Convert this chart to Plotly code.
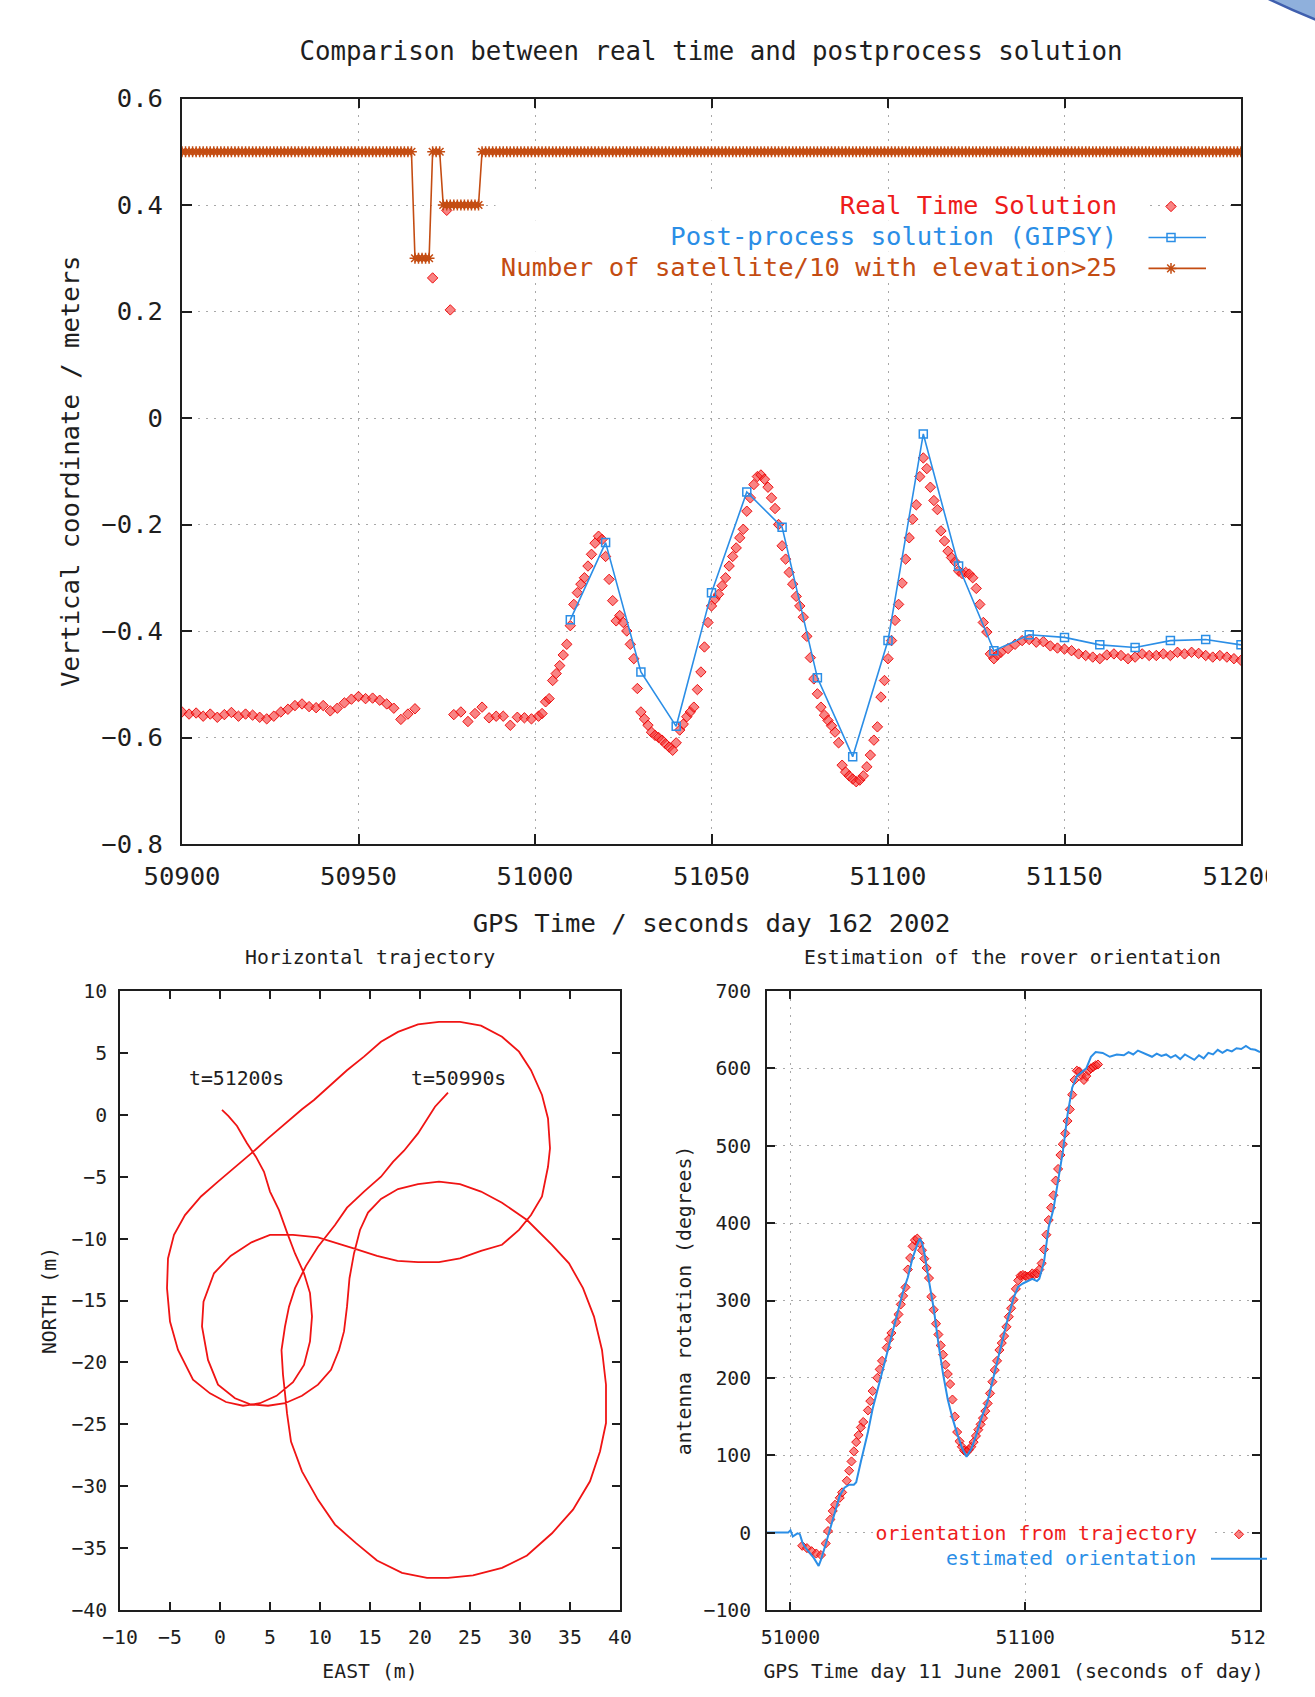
import plotly.graph_objects as go

W, H = 1315, 1697
FONT = "DejaVu Sans Mono"

# ---------------- top plot: vertical coordinate ----------------
rt_time = [50900, 50902, 50904, 50906, 50908, 50910, 50912, 50914, 50916, 50918,
           50920, 50922, 50924, 50926, 50928, 50930, 50932, 50934, 50936, 50938,
           50940, 50942, 50944, 50946, 50948, 50950, 50952, 50954, 50956, 50958,
           50960, 50962, 50964, 50966, 50971, 50975, 50976,
           50977, 50979, 50981, 50983, 50985, 50987, 50989, 50991, 50993, 50995,
           50997, 50999, 51001,
           51002, 51003, 51004, 51005, 51006, 51007, 51008, 51009, 51010, 51011,
           51012, 51013, 51014, 51015, 51016, 51017, 51018, 51019, 51020, 51021,
           51022, 51023, 51024, 51025, 51026, 51027, 51028, 51029, 51030, 51031,
           51032, 51033, 51034, 51035, 51036, 51037, 51038, 51039, 51040, 51041,
           51042, 51043, 51044, 51045, 51046, 51047, 51048, 51049, 51050, 51051,
           51052, 51053, 51054, 51055, 51056, 51057, 51058, 51059, 51060, 51061,
           51062, 51063, 51064, 51065, 51066, 51067, 51068, 51069, 51070, 51071,
           51072, 51073, 51074, 51075, 51076, 51077, 51078, 51079, 51080, 51081,
           51082, 51083, 51084, 51085, 51086, 51087, 51088, 51089, 51090, 51091,
           51092, 51093, 51094, 51095, 51096, 51097, 51098, 51099, 51100, 51101,
           51102, 51103, 51104, 51105, 51106, 51107, 51108, 51109, 51110, 51111,
           51112, 51113, 51114, 51115, 51116, 51117, 51118, 51119, 51120, 51121,
           51122, 51123, 51124, 51125, 51126, 51127, 51128, 51129, 51130, 51131,
           51132, 51134, 51136, 51138, 51140, 51142, 51144, 51146, 51148, 51150,
           51152, 51154, 51156, 51158, 51160, 51162, 51164, 51166, 51168, 51170,
           51172, 51174, 51176, 51178, 51180, 51182, 51184, 51186, 51188, 51190,
           51192, 51194, 51196, 51198, 51200]
rt_value = [-0.552, -0.556, -0.554, -0.560, -0.556, -0.562, -0.557, -0.553, -0.560, -0.556,
            -0.558, -0.562, -0.565, -0.560, -0.552, -0.547, -0.540, -0.537, -0.542, -0.544,
            -0.540, -0.550, -0.545, -0.535, -0.528, -0.523, -0.527, -0.526, -0.530, -0.537,
            -0.545, -0.566, -0.556, -0.546, 0.263, 0.390, 0.203,
            -0.557, -0.552, -0.570, -0.555, -0.543, -0.563, -0.560, -0.560, -0.577, -0.562,
            -0.563, -0.565, -0.560,
            -0.555, -0.533, -0.527, -0.493, -0.480, -0.465, -0.445, -0.425, -0.390, -0.350,
            -0.328, -0.312, -0.300, -0.278, -0.256, -0.235, -0.222, -0.228, -0.260, -0.303,
            -0.343, -0.381, -0.371, -0.384, -0.400, -0.425, -0.452, -0.508, -0.552, -0.565,
            -0.577, -0.590, -0.596, -0.600, -0.605, -0.612, -0.618, -0.624, -0.610, -0.586,
            -0.575, -0.561, -0.552, -0.543, -0.510, -0.477, -0.430, -0.384, -0.353, -0.340,
            -0.331, -0.315, -0.300, -0.278, -0.260, -0.244, -0.225, -0.209, -0.175, -0.150,
            -0.125, -0.110, -0.107, -0.115, -0.130, -0.150, -0.170, -0.200, -0.240, -0.265,
            -0.290, -0.312, -0.335, -0.353, -0.374, -0.410, -0.450, -0.490, -0.518, -0.543,
            -0.558, -0.568, -0.578, -0.590, -0.610, -0.652, -0.665, -0.672, -0.678, -0.683,
            -0.680, -0.672, -0.655, -0.633, -0.605, -0.580, -0.524, -0.493, -0.452, -0.418,
            -0.380, -0.350, -0.310, -0.265, -0.225, -0.190, -0.163, -0.110, -0.075, -0.095,
            -0.130, -0.155, -0.172, -0.212, -0.231, -0.250, -0.262, -0.270, -0.287, -0.292,
            -0.290, -0.293, -0.300, -0.320, -0.350, -0.384, -0.402, -0.443, -0.452, -0.445,
            -0.440, -0.433, -0.425, -0.418, -0.416, -0.421, -0.420, -0.428, -0.432, -0.434,
            -0.437, -0.443, -0.446, -0.449, -0.452, -0.445, -0.443, -0.446, -0.452, -0.449,
            -0.443, -0.446, -0.446, -0.443, -0.446, -0.440, -0.443, -0.440, -0.442, -0.446,
            -0.449, -0.446, -0.449, -0.452, -0.455]

gipsy_time = [51010, 51020, 51030, 51040, 51050, 51060, 51070, 51080, 51090, 51100,
              51110, 51120, 51130, 51140, 51150, 51160, 51170, 51180, 51190, 51200]
gipsy_value = [-0.379, -0.234, -0.477, -0.579, -0.328, -0.139, -0.205, -0.488, -0.636, -0.418,
               -0.030, -0.278, -0.437, -0.407, -0.412, -0.426, -0.431, -0.418, -0.416, -0.426]

# number of satellites above 25 deg, constant over runs of seconds
sat_run_start = [50900, 50966, 50971, 50974, 50985]
sat_run_end = [50965, 50970, 50973, 50984, 51200]
sat_count = [5, 3, 5, 4, 5]

# ---------------- bottom left: horizontal trajectory ----------------
east_m = [22.8, 21.5, 19.8, 18.4, 17.3, 16.1, 14.4, 12.7, 11.5, 9.8, 8.6, 7.5, 6.9, 6.5, 6.15,
          6.3, 6.5, 6.7, 7.1, 8.2, 9.8, 11.5, 13.6, 15.7, 18.2, 20.7, 22.8, 25.3, 28.2, 30.7,
          33.2, 35.3, 37.0, 38.0, 38.6, 38.6, 38.2, 37.4, 36.3, 34.9, 33.2, 30.7, 28.2, 26.1,
          24.0, 21.9, 19.8, 17.8, 16.1, 14.8, 14.0, 13.4, 12.95, 12.7, 12.4, 11.9, 11.1, 9.8,
          8.2, 6.5, 4.8, 3.1, 1.5, -0.2, -1.2, -1.8, -1.65, -0.6, 1.06, 3.15, 5.0, 7.3, 9.8,
          11.5, 13.6, 15.7, 17.75, 19.8, 21.9, 24.0, 26.1, 28.2, 29.9, 31.1, 32.2, 32.8, 33.0,
          32.8, 32.2, 31.1, 29.9, 28.2, 26.1, 24.0, 21.9, 19.8, 17.8, 16.1, 14.4, 12.7, 11.1,
          9.4, 8.2, 6.5, 4.8, 3.15, 1.5, -0.2, -1.9, -3.5, -4.6, -5.2, -5.3, -5.0, -4.2, -2.7,
          -1.0, 0.6, 2.3, 4.0, 5.65, 7.3, 8.4, 9.0, 9.2, 9.0, 8.4, 7.5, 6.7, 5.9, 5.0, 4.4,
          3.6, 2.7, 1.7, 0.85, 0.2]
north_m = [1.8, 0.65, -1.5, -2.9, -3.8, -5.0, -6.2, -7.5, -8.9, -10.65, -12.2, -14.0, -15.5,
           -17.1, -19.0, -21.0, -22.5, -24.1, -26.4, -28.8, -31.1, -33.1, -34.6, -36.0, -37.0,
           -37.4, -37.4, -37.2, -36.6, -35.6, -33.8, -31.9, -29.6, -27.2, -24.9, -21.8, -19.0,
           -16.3, -14.0, -12.0, -10.5, -8.5, -7.1, -6.2, -5.6, -5.4, -5.6, -6.0, -6.8, -7.9,
           -9.3, -11.2, -13.2, -15.5, -17.5, -19.0, -20.6, -21.8, -22.7, -23.3, -23.5, -23.4,
           -22.9, -21.8, -19.8, -17.1, -15.1, -12.8, -11.4, -10.3, -9.7, -9.7, -9.9, -10.3,
           -10.85, -11.4, -11.8, -11.9, -11.9, -11.6, -11.0, -10.5, -9.3, -8.1, -6.6, -4.2,
           -2.7, -0.3, 1.6, 3.6, 5.1, 6.3, 7.2, 7.5, 7.5, 7.3, 6.7, 5.9, 4.7, 3.6, 2.4, 1.2,
           0.45, -0.7, -1.9, -3.1, -4.2, -5.4, -6.6, -8.1, -9.7, -11.6, -14.0, -16.7, -19.0,
           -21.4, -22.5, -23.2, -23.5, -23.3, -22.7, -21.6, -20.2, -18.3, -16.3, -14.4, -12.8,
           -11.2, -9.5, -7.7, -6.2, -4.6, -3.4, -2.3, -0.9, -0.1, 0.4]

# ---------------- bottom right: rover orientation ----------------
est_time = [50990, 50995, 50999, 51000, 51001, 51002, 51003, 51004, 51005, 51006, 51008,
            51010, 51012, 51013, 51015, 51017, 51019, 51021, 51023, 51025, 51027, 51028,
            51030, 51033, 51035, 51038, 51040, 51042, 51045, 51048, 51050, 51052, 51054,
            51055, 51056, 51057, 51059, 51061, 51063, 51065, 51067, 51069, 51071, 51073,
            51075, 51077, 51079, 51081, 51084, 51086, 51089, 51092, 51095, 51097, 51099,
            51101, 51103, 51105, 51106, 51108, 51110, 51112, 51114, 51116, 51118, 51120,
            51122, 51124, 51126, 51128, 51130, 51133, 51136, 51139, 51142, 51144, 51146,
            51148, 51150, 51152, 51154, 51156, 51158, 51160, 51162, 51164, 51166, 51168,
            51170, 51172, 51174, 51176, 51178, 51180, 51182, 51184, 51186, 51188, 51190,
            51192, 51194, 51196, 51198, 51200]
est_deg = [0, 0, 0, 3, -5, -3, -1, -2, -12, -18, -25,
           -33, -43, -35, -15, 5, 25, 48, 58, 62, 62, 65,
           92, 130, 160, 195, 220, 245, 280, 312, 330, 355, 372,
           380, 375, 362, 325, 290, 245, 205, 172, 148, 128, 110,
           98, 108, 125, 145, 170, 195, 235, 270, 303, 318, 322,
           325, 328, 325, 328, 350, 395, 418, 455, 492, 540, 575,
           590, 595, 600, 615, 621, 620, 615, 618, 617, 621, 618,
           623, 620, 618, 615, 619, 616, 618, 614, 617, 612, 618,
           615, 611, 617, 613, 620, 618, 624, 620, 624, 622, 626,
           625, 629, 625, 624, 621]

traj_time = [51005, 51007, 51009, 51011, 51013, 51015, 51016, 51017, 51018, 51019, 51021,
             51022, 51024, 51025, 51026, 51027, 51028, 51029, 51030, 51031, 51033, 51034,
             51035, 51037, 51038, 51039, 51041, 51042, 51043, 51045, 51046, 51047, 51048,
             51049, 51050, 51051, 51052, 51053, 51054, 51055, 51056, 51057, 51058, 51059,
             51060, 51061, 51062, 51063, 51064, 51065, 51066, 51067, 51068, 51069, 51070,
             51071, 51072, 51073, 51074, 51075, 51076, 51077, 51078, 51079, 51080, 51081,
             51082, 51083, 51084, 51085, 51086, 51087, 51088, 51089, 51090, 51091, 51092,
             51093, 51094, 51095, 51096, 51097, 51098, 51099, 51100, 51101, 51102, 51103,
             51104, 51105, 51106, 51107, 51108, 51109, 51110, 51111, 51112, 51113, 51114,
             51115, 51116, 51117, 51118, 51119, 51120, 51121, 51122, 51123, 51124, 51125,
             51126, 51127, 51128, 51129, 51130, 51131]
traj_deg = [-17, -20, -24, -27, -29, -14, 2, 17, 28, 36, 45,
            52, 67, 80, 92, 105, 117, 126, 136, 143, 158, 170,
            183, 200, 211, 222, 239, 250, 258, 272, 282, 295, 306,
            317, 340, 355, 370, 378, 380, 374, 365, 354, 342, 329,
            305, 288, 270, 256, 242, 230, 217, 205, 192, 172, 150,
            130, 118, 111, 106, 104, 107, 111, 117, 125, 133, 140,
            148, 157, 167, 180, 195, 210, 222, 236, 245, 254, 266,
            279, 290, 301, 315, 326, 332, 333, 332, 331, 332, 335,
            334, 335, 340, 348, 366, 385, 404, 420, 436, 455, 470,
            488, 502, 516, 532, 547, 566, 585, 597, 596, 591, 585,
            590, 597, 600, 602, 604, 605]

# ---------------- colours / helpers ----------------
RED = "#ee1c1c"
BLUE = "#2b8ee6"
BROWN = "#c44c12"
GRID = "#a8a8a8"
NBSP = "\u00a0"


def paper_x(px):
    return px / W


def paper_y(py):
    return 1 - py / H


sat_time, sat_value = [], []
for s, e, n in zip(sat_run_start, sat_run_end, sat_count):
    for t in range(s, e + 1):
        sat_time.append(t)
        sat_value.append(n / 10)

fig = go.Figure()

diamond = dict(symbol="diamond", size=8, color="rgba(245,50,50,0.6)",
               line=dict(color="rgba(235,0,0,0.9)", width=1))

fig.add_trace(go.Scatter(x=rt_time, y=rt_value, mode="markers", marker=diamond,
                         name=" ", legend="legend", xaxis="x", yaxis="y"))
fig.add_trace(go.Scatter(x=gipsy_time, y=gipsy_value, mode="lines+markers",
                         line=dict(color=BLUE, width=1.6),
                         marker=dict(symbol="square-open", size=8, color=BLUE,
                                     line=dict(color=BLUE, width=1.5)),
                         name="  ", legend="legend", xaxis="x", yaxis="y"))
fig.add_trace(go.Scatter(x=sat_time, y=sat_value, mode="lines+markers",
                         line=dict(color=BROWN, width=1.6),
                         marker=dict(symbol="asterisk-open", size=9, color=BROWN,
                                     line=dict(color=BROWN, width=1.5)),
                         name="   ", legend="legend", xaxis="x", yaxis="y"))

fig.add_trace(go.Scatter(x=east_m, y=north_m, mode="lines",
                         line=dict(color="#f01414", width=1.8),
                         showlegend=False, xaxis="x2", yaxis="y2"))

fig.add_trace(go.Scatter(x=traj_time, y=traj_deg, mode="markers",
                         marker=dict(diamond, size=7),
                         name=" ", legend="legend2", xaxis="x3", yaxis="y3"))
fig.add_trace(go.Scatter(x=est_time, y=est_deg, mode="lines",
                         line=dict(color=BLUE, width=2),
                         name="  ", legend="legend2", xaxis="x3", yaxis="y3"))

axis_common = dict(showline=True, linecolor="#1e1e1e", linewidth=1.8, mirror="ticks",
                   ticks="inside", tickcolor="#1e1e1e", tickwidth=1.5, zeroline=False,
                   color="#1e1e1e", automargin=False)
top_font = dict(family=FONT, size=25.6, color="#1e1e1e")
bot_font = dict(family=FONT, size=19.8, color="#1e1e1e")
grid = dict(showgrid=True, gridcolor=GRID, griddash="2px,6px", gridwidth=1.2)

fig.update_layout(
    width=W, height=H,
    margin=dict(l=0, r=0, t=0, b=0, autoexpand=False),
    paper_bgcolor="white", plot_bgcolor="white",
    font=dict(family=FONT, color="#1e1e1e"),
    hovermode=False,
    title=dict(text="Comparison between real time and postprocess solution",
               x=paper_x(711), y=paper_y(51), xanchor="center", yanchor="middle",
               font=dict(top_font, size=25.8)),
    xaxis=dict(axis_common, **grid, domain=[paper_x(182), paper_x(1241)],
               range=[50900, 51200], dtick=50, tick0=50900, tickformat="d",
               ticklen=10, tickfont=top_font, ticklabelstandoff=8,
               title=dict(text="GPS Time / seconds day 162 2002", font=top_font, standoff=24),
               anchor="y"),
    yaxis=dict(axis_common, **grid, domain=[paper_y(844), paper_y(98.5)],
               range=[-0.8, 0.6], dtick=0.2, tick0=0, ticklen=10, tickfont=top_font,
               ticklabelstandoff=12,
               title=dict(text="Vertical coordinate / meters", font=top_font, standoff=14),
               anchor="x"),
    xaxis2=dict(axis_common, domain=[paper_x(120), paper_x(620)], range=[-10, 40],
                dtick=5, tick0=0, ticklen=8, tickfont=bot_font, showgrid=False,
                ticklabelstandoff=8,
                title=dict(text="EAST (m)", font=bot_font, standoff=16), anchor="y2"),
    yaxis2=dict(axis_common, domain=[paper_y(1610), paper_y(991)], range=[-40, 10],
                dtick=5, tick0=0, ticklen=8, tickfont=bot_font, showgrid=False,
                ticklabelstandoff=7,
                title=dict(text="NORTH (m)", font=bot_font, standoff=9), anchor="x2"),
    xaxis3=dict(axis_common, **grid, domain=[paper_x(767), paper_x(1260)],
                range=[50990, 51200], dtick=100, tick0=51000, tickformat="d",
                ticklen=8, tickfont=bot_font, ticklabelstandoff=8,
                title=dict(text="GPS Time day 11 June 2001 (seconds of day)", font=bot_font,
                           standoff=16), anchor="y3"),
    yaxis3=dict(axis_common, **grid, domain=[paper_y(1610), paper_y(991)],
                range=[-100, 700], dtick=100, tick0=0, ticklen=8, tickfont=bot_font,
                ticklabelstandoff=10,
                title=dict(text="antenna rotation (degrees)", font=bot_font, standoff=7),
                anchor="x3"),
    legend=dict(x=paper_x(1131), y=paper_y(186), xanchor="left", yanchor="top",
                bgcolor="rgba(0,0,0,0)", borderwidth=0, itemwidth=70,
                font=dict(family=FONT, size=21.5), tracegroupgap=0),
    legend2=dict(x=paper_x(1206), y=paper_y(1517), xanchor="left", yanchor="top",
                 bgcolor="rgba(0,0,0,0)", borderwidth=0, itemwidth=56,
                 font=dict(family=FONT, size=16.6), tracegroupgap=0),
)

# key texts of the top plot: the boxes are opaque, like the gnuplot key
key_top = [("Real Time Solution", RED, 204.5),
           ("Post-process solution (GIPSY)", BLUE, 236),
           ("Number of satellite/10 with elevation>25", BROWN, 267)]
annotations = []
for txt, col, ypx in key_top:
    annotations.append(dict(text=txt + NBSP * 2, x=paper_x(1149), y=paper_y(ypx),
                            xref="paper", yref="paper", xanchor="right", yanchor="middle",
                            width=652, align="right", bgcolor="white", borderpad=0,
                            showarrow=False, font=dict(family=FONT, size=25.6, color=col)))

annotations += [
    dict(text="orientation from trajectory" + NBSP, x=paper_x(1210), y=paper_y(1533),
         xref="paper", yref="paper", xanchor="right", yanchor="middle", width=334,
         align="right", bgcolor="white", borderpad=0, showarrow=False,
         font=dict(family=FONT, size=19.8, color=RED)),
    dict(text="estimated orientation", x=paper_x(1198), y=paper_y(1558),
         xref="paper", yref="paper", xanchor="right", yanchor="middle", showarrow=False,
         font=dict(family=FONT, size=19.8, color=BLUE)),
    dict(text="Horizontal trajectory", x=paper_x(370), y=paper_y(957), xref="paper",
         yref="paper", xanchor="center", yanchor="middle", showarrow=False, font=bot_font),
    dict(text="Estimation of the rover orientation", x=paper_x(1013), y=paper_y(957),
         xref="paper", yref="paper", xanchor="center", yanchor="middle", showarrow=False,
         font=bot_font),
    dict(text="t=51200s", x=1.65, y=2.9, xref="x2", yref="y2", xanchor="center",
         yanchor="middle", showarrow=False, font=bot_font),
    dict(text="t=50990s", x=23.8, y=2.9, xref="x2", yref="y2", xanchor="center",
         yanchor="middle", showarrow=False, font=bot_font),
]
fig.update_layout(annotations=annotations)

shapes = [
    # right edge of the original picture is cropped
    dict(type="rect", xref="paper", yref="paper", x0=paper_x(1267), x1=1.02,
         y0=-0.01, y1=1.01, fillcolor="white", line=dict(width=0), layer="above"),
    # slide decoration in the top-right corner
    dict(type="circle", xref="paper", yref="paper",
         x0=paper_x(1560 - 666), x1=paper_x(1560 + 666),
         y0=paper_y(-600 + 666), y1=paper_y(-600 - 666),
         fillcolor="#8fb0dc", line=dict(color="#3f5fae", width=2.5), layer="above"),
]
fig.update_layout(shapes=shapes)

fig.write_html(
    "out.html",
    config={"displayModeBar": False},
    post_script="document.body.style.margin='0';document.body.style.padding='0';"
                "document.body.style.overflow='hidden';",
)
